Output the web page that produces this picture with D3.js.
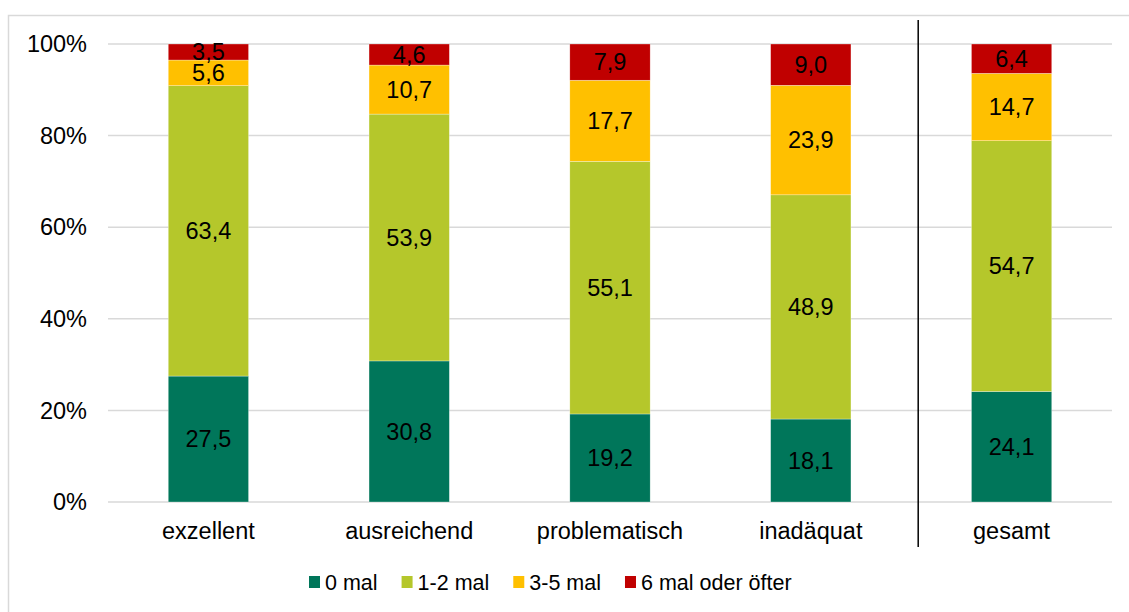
<!DOCTYPE html>
<html>
<head>
<meta charset="utf-8">
<script src="https://cdn.jsdelivr.net/npm/d3@7"></script>
<style>
  body { margin: 0; background: #fff; }
  text { font-family: "Liberation Sans", Arial, sans-serif; fill: #000; }
</style>
</head>
<body>
<div id="chart"></div>
<script>
// Daten
const kategorien = ["exzellent", "ausreichend", "problematisch", "inadäquat", "gesamt"];
const serien = ["0 mal", "1-2 mal", "3-5 mal", "6 mal oder öfter"];
const farben = ["#00765A", "#B5C72B", "#FFC000", "#C00000"];
const werte0 = [27.5, 30.8, 19.2, 18.1, 24.1];
const werte12 = [63.4, 53.9, 55.1, 48.9, 54.7];
const werte35 = [5.6, 10.7, 17.7, 23.9, 14.7];
const werte6 = [3.5, 4.6, 7.9, 9.0, 6.4];
const yTicks = [0, 0.2, 0.4, 0.6, 0.8, 1];

const W = 1129, H = 612;
const margin = {top: 44, right: 17, bottom: 110, left: 108};
const width = W - margin.left - margin.right,
      height = H - margin.top - margin.bottom;
const fontSize = 23.5;
const legendSize = 21.5;

const table = kategorien.map((k, i) => ({
  kat: k,
  [serien[0]]: werte0[i],
  [serien[1]]: werte12[i],
  [serien[2]]: werte35[i],
  [serien[3]]: werte6[i]
}));

const svgRoot = d3.select("#chart").append("svg")
  .attr("width", W).attr("height", H);

// Rahmen
svgRoot.append("rect")
  .attr("x", 8.5).attr("y", 15.5)
  .attr("width", W + 20).attr("height", H + 20)
  .attr("fill", "none").attr("stroke", "#d9d9d9").attr("stroke-width", 1.5);

const svg = svgRoot.append("g")
  .attr("transform", `translate(${margin.left},${margin.top})`);

const x = d3.scaleBand().domain(kategorien).range([0, width]).paddingInner(0.6).paddingOuter(0.3);
const y = d3.scaleLinear().domain([0, 1]).range([height, 0]);

// Gitterlinien
svg.append("g").selectAll("line")
  .data(yTicks)
  .join("line")
  .attr("x1", 0).attr("x2", width)
  .attr("y1", d => y(d)).attr("y2", d => y(d))
  .attr("stroke", "#d9d9d9").attr("stroke-width", 1.5);

// Y Achse
svg.append("g").selectAll("text")
  .data(yTicks)
  .join("text")
  .attr("x", -21).attr("y", d => y(d))
  .attr("dy", "0.35em")
  .attr("text-anchor", "end")
  .style("font-size", fontSize + "px")
  .text(d => d3.format(".0%")(d));

// Stapel
const stack = d3.stack().keys(serien).offset(d3.stackOffsetExpand);
const stacked = stack(table);

const layer = svg.selectAll("g.layer")
  .data(stacked)
  .join("g")
  .attr("class", "layer")
  .attr("fill", (d, i) => farben[i]);

layer.selectAll("rect")
  .data(d => d)
  .join("rect")
  .attr("x", d => x(d.data.kat))
  .attr("width", x.bandwidth())
  .attr("y", d => y(d[1]))
  .attr("height", d => y(d[0]) - y(d[1]))
  .attr("stroke", "#fff").attr("stroke-width", 0.5).attr("stroke-opacity", 0.6);

// Werte
const fmt = v => d3.format(".1f")(v).replace(".", ",");
stacked.forEach(s => {
  svg.append("g").selectAll("text")
    .data(s)
    .join("text")
    .attr("x", d => x(d.data.kat) + x.bandwidth() / 2)
    .attr("y", d => y((d[0] + d[1]) / 2))
    .attr("dy", "0.35em")
    .attr("text-anchor", "middle")
    .style("font-size", fontSize + "px")
    .text(d => fmt(d.data[s.key]));
});

// X Achse
svg.append("g").selectAll("text")
  .data(kategorien)
  .join("text")
  .attr("x", d => x(d) + x.bandwidth() / 2)
  .attr("y", height + 29)
  .attr("dy", "0.35em")
  .attr("text-anchor", "middle")
  .style("font-size", fontSize + "px")
  .text(d => d);

// Trennlinie vor "gesamt"
const sepX = x("gesamt") - x.step() * x.paddingInner() / 2 + 7;
svg.append("line")
  .attr("x1", sepX).attr("x2", sepX)
  .attr("y1", -24).attr("y2", height + 45)
  .attr("stroke", "#000").attr("stroke-width", 1.5);

// Legende
const legend = svgRoot.append("g").attr("transform", "translate(309,582)");
let lx = 0;
serien.forEach((s, i) => {
  const g = legend.append("g").attr("transform", `translate(${lx},0)`);
  g.append("rect").attr("x", 0).attr("y", -6).attr("width", 11).attr("height", 12).attr("fill", farben[i]);
  const t = g.append("text").attr("x", 16).attr("y", 0).attr("dy", "0.35em")
    .style("font-size", legendSize + "px").text(s);
  lx += 16 + t.node().getComputedTextLength() + 24;
});
</script>
</body>
</html>
